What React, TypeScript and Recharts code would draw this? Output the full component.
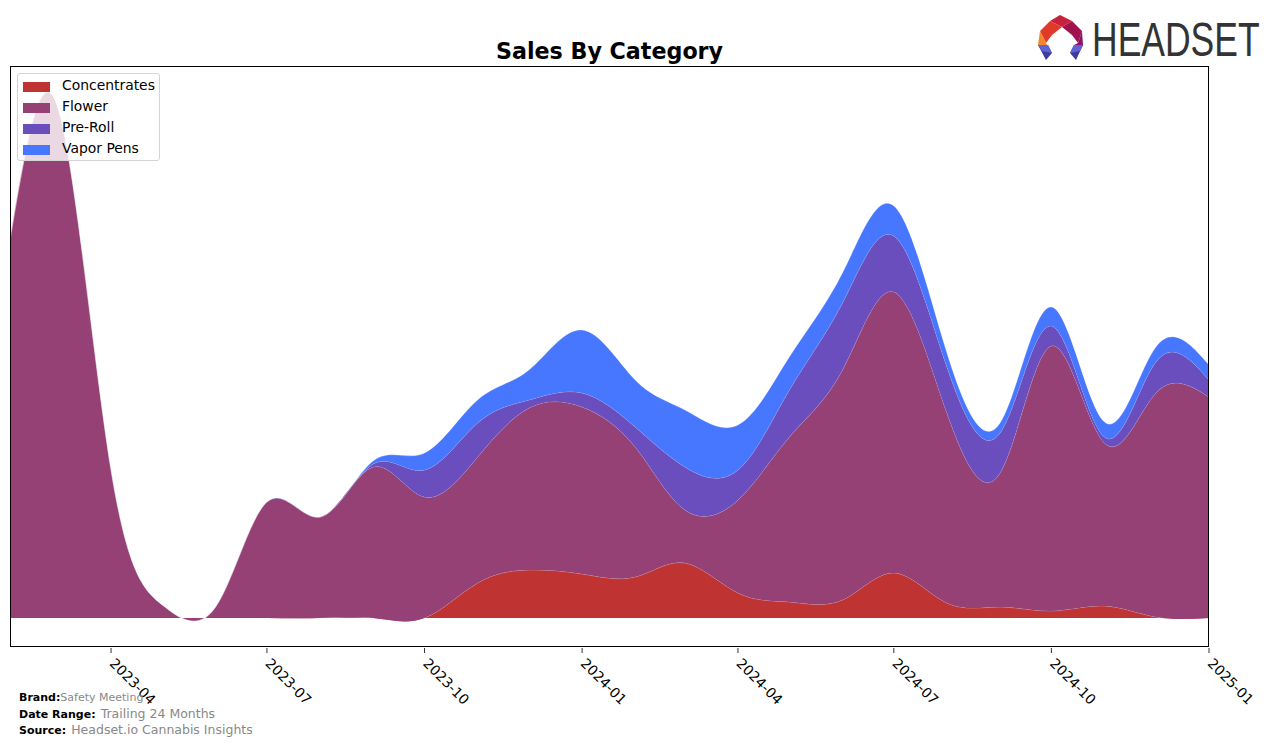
import React from 'react'
import { AreaChart, Area, XAxis, YAxis, Legend } from 'recharts'

const months = [
  '2023-02', '2023-03', '2023-04', '2023-05', '2023-06', '2023-07', '2023-08', '2023-09',
  '2023-10', '2023-11', '2023-12', '2024-01', '2024-02', '2024-03', '2024-04', '2024-05',
  '2024-06', '2024-07', '2024-08', '2024-09', '2024-10', '2024-11', '2024-12', '2025-01',
]
const concentrates = [0, 0, 0, 0, 0, 0, 0, 0, 0, 35, 48, 44, 41, 55, 25, 16, 18, 45, 15, 11, 7, 12, 1, 0]
const flower = [378, 510, 148, 13, 11, 116, 101, 151, 121, 126, 162, 167, 130, 53, 93, 165, 230, 281, 190, 134, 265, 163, 224, 221]
const preRoll = [0, 0, 0, 0, 0, 0, 0, 3, 27, 34, 8, 14, 20, 43, 30, 47, 67, 56, 46, 40, 20, 6, 31, 17]
const vaporPens = [0, 0, 0, 0, 0, 0, 0, 3, 17, 23, 30, 63, 47, 57, 45, 33, 30, 30, 14, 10, 19, 15, 15, 15]
const tickMonths = ['2023-04', '2023-07', '2023-10', '2024-01', '2024-04', '2024-07', '2024-10', '2025-01']

const series = [
  { key: 'concentrates', label: 'Concentrates', color: '#c03333' },
  { key: 'flower', label: 'Flower', color: '#954176' },
  { key: 'preRoll', label: 'Pre-Roll', color: '#6a4ebd' },
  { key: 'vaporPens', label: 'Vapor Pens', color: '#4776ff' },
]

const font = '"DejaVu Sans", sans-serif'

// month string -> UTC timestamp for a true time axis
function ts(m: string) {
  const [y, mo] = m.split('-').map(Number)
  return Date.UTC(y, mo - 1, 1)
}

const data = months.map((m, i) => ({
  t: ts(m),
  concentrates: concentrates[i],
  flower: flower[i],
  preRoll: preRoll[i],
  vaporPens: vaporPens[i],
}))

const ticks = tickMonths.map(ts)
const domainX = [ts(months[0]), ts(months[months.length - 1])]
const domainY = [-29, 552]

function fmtMonth(v: number) {
  const d = new Date(v)
  return `${d.getUTCFullYear()}-${String(d.getUTCMonth() + 1).padStart(2, '0')}`
}

function DateTick({ x, y, payload }: { x?: number; y?: number; payload?: { value: number } }) {
  return (
    <g transform={`translate(${x},${y})`}>
      <line x1={0} y1={-7} x2={0} y2={-2} stroke="#000" strokeWidth={0.8} />
      <text
        x={0} y={0} transform="translate(5,2) rotate(45)" textAnchor="start"
        dominantBaseline="hanging" fontFamily={font} fontSize={13.9} fill="#000"
      >
        {fmtMonth(payload?.value ?? 0)}
      </text>
    </g>
  )
}

function LegendBox() {
  return (
    <div style={{
      width: 141, height: 86, border: '1px solid #d4d4d4', borderRadius: 3,
      background: 'rgba(255,255,255,0.8)', fontFamily: font, fontSize: 13.9, boxSizing: 'content-box',
    }}>
      {series.map((s, i) => (
        <div key={s.key} style={{ position: 'relative', height: 21, marginTop: i === 0 ? 3 : 0 }}>
          <span style={{ position: 'absolute', left: 5, top: 5, width: 27, height: 10, background: s.color }} />
          <span style={{ position: 'absolute', left: 44, top: 0, color: '#000', whiteSpace: 'nowrap' }}>{s.label}</span>
        </div>
      ))}
    </div>
  )
}

function Logo() {
  return (
    <svg width={236} height={66} style={{ position: 'absolute', left: 1030, top: 6 }}>
      <g transform="translate(8,9)">
        <polygon points="22,0 34,6 24,12 12,6" fill="#c8213c" />
        <polygon points="34,6 44,16 40,28 34,20 24,12" fill="#a0134f" />
        <polygon points="12,6 24,12 14,20 8,28 2,16" fill="#e23a2a" />
        <polygon points="2,16 8,28 10,32 0,30" fill="#f7862a" />
        <polygon points="0,30 10,30 14,38 8,45" fill="#3b3d9f" />
        <polygon points="44,16 45,30 36,30 40,28" fill="#8a1367" />
        <polygon points="45,30 36,30 32,38 38,45" fill="#3b3d9f" />
        <polygon points="0,30 10,30 14,38 4,36" fill="#6262d6" />
        <polygon points="45,30 36,30 32,38 42,36" fill="#6262d6" />
      </g>
      <text
        x={0} y={0} transform="translate(62,50) scale(1,1.37)"
        fontFamily='"Liberation Sans", sans-serif' fontSize={35.5} fill="#333"
      >
        HEADSET
      </text>
    </svg>
  )
}

const footLine = { position: 'absolute' as const, left: 0, height: 14, lineHeight: '14px', whiteSpace: 'nowrap' as const }

export default function App() {
  return (
    <div style={{ position: 'absolute', left: 0, top: 0, width: 1276, height: 746, background: '#fff', fontFamily: font }}>
      <div style={{
        position: 'absolute', left: 10, width: 1199, top: 38, textAlign: 'center',
        fontFamily: font, fontWeight: 'bold', fontSize: 22.2, color: '#000',
      }}>
        Sales By Category
      </div>
      <Logo />
      <AreaChart width={1276} height={746} data={data} margin={{ top: 66, right: 67, bottom: 39, left: 10 }}>
        <XAxis
          dataKey="t" type="number" scale="time" domain={domainX} ticks={ticks}
          allowDataOverflow height={60} tick={<DateTick />} tickLine={false}
          axisLine={false} interval={0}
        />
        <YAxis type="number" domain={domainY} allowDataOverflow hide />
        {series.map((s) => (
          <Area
            key={s.key} type="natural" dataKey={s.key} name={s.label} stackId="1"
            fill={s.color} fillOpacity={1} stroke="#ffffff" strokeOpacity={0.3} strokeWidth={0.8}
            isAnimationActive={false} dot={false} activeDot={false}
          />
        ))}
        <Legend
          content={<LegendBox />} layout="horizontal" verticalAlign="middle" align="center"
          wrapperStyle={{ position: 'absolute', left: 17, top: 73, width: 'auto', height: 'auto' }}
        />
      </AreaChart>
      {/* axes frame */}
      <div style={{
        position: 'absolute', left: 10, top: 66, width: 1199, height: 581,
        border: '1px solid #000', boxSizing: 'border-box', pointerEvents: 'none',
      }} />
      <div style={{ position: 'absolute', left: 19, top: 691, width: 300, height: 50, fontFamily: font }}>
        <div style={{ ...footLine, top: 0, fontSize: 11 }}>
          <b style={{ color: '#000' }}>Brand:</b><span style={{ color: '#888' }}>Safety Meeting</span>
        </div>
        <div style={{ ...footLine, top: 15 }}>
          <b style={{ fontSize: 11, color: '#000' }}>Date Range:</b>{' '}
          <span style={{ fontSize: 12.5, color: '#888' }}>Trailing 24 Months</span>
        </div>
        <div style={{ ...footLine, top: 30.5 }}>
          <b style={{ fontSize: 11, color: '#000' }}>Source:</b>{' '}
          <span style={{ fontSize: 12.5, color: '#888' }}>Headset.io Cannabis Insights</span>
        </div>
      </div>
    </div>
  )
}
